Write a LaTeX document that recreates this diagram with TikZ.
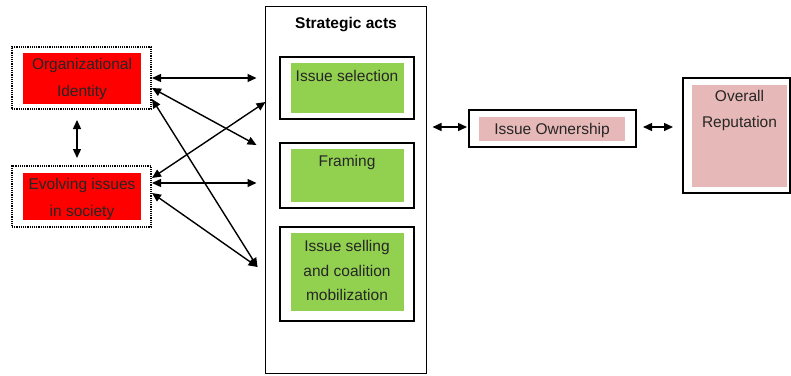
\documentclass[tikz,border=0pt]{standalone}
\usepackage{fontspec}
\setmainfont{Liberation Sans}
\usetikzlibrary{arrows.meta,calc}
\definecolor{boxred}{RGB}{255,0,0}
\definecolor{boxgreen}{RGB}{146,208,80}
\definecolor{boxpink}{RGB}{230,184,183}
\begin{document}
\begin{tikzpicture}[x=1pt,y=-1pt,
  every node/.style={inner sep=0pt,outer sep=0pt},
  rect/.style={rectangle,minimum width=#1},
  dotbox/.style={draw,densely dotted,line width=1.2pt},
  solidbox/.style={draw,line width=1.6pt},
  redfill/.style={fill=boxred},
  greenfill/.style={fill=boxgreen},
  pinkfill/.style={fill=boxpink},
  txt/.style={font=\fontsize{15.5}{24.5}\selectfont,align=center,text=black!85},
  txtwide/.style={font=\fontsize{15.5}{27}\selectfont,align=center,text=black!85},
  conn/.style={line width=1.4pt,{Triangle[length=9pt,width=8pt]}-{Triangle[length=9pt,width=8pt]}}
]
\useasboundingbox (0,0) rectangle (791,375);
% left boxes
\node[dotbox,minimum width=139pt,minimum height=62pt] (orgO) at (81.5,78) {};
\node[redfill,minimum width=118pt,minimum height=51pt] (orgI) at (82,78.5) {};
\node[txtwide] (orgT) at (82,78.5) {Organizational\\Identity};
\node[dotbox,minimum width=139pt,minimum height=61pt] (evoO) at (81.5,196.5) {};
\node[redfill,minimum width=118pt,minimum height=47pt] (evoI) at (82,196.5) {};
\node[txtwide] (evoT) at (82,198.5) {Evolving issues\\in society};
% strategic acts
\node[draw,line width=1.3pt,minimum width=161pt,minimum height=367pt] (strat) at (346,190) {};
\node[font=\fontsize{15.5}{18}\selectfont\bfseries] (stratT) at (346,25) {Strategic acts};
\node[solidbox,minimum width=134pt,minimum height=62pt] (selO) at (347,88) {};
\node[greenfill,minimum width=113pt,minimum height=50pt] (selI) at (347.5,88) {};
\node[txt] (selT) at (347,76) {Issue selection};
\node[solidbox,minimum width=134pt,minimum height=65pt] (framO) at (347,175.5) {};
\node[greenfill,minimum width=113pt,minimum height=53pt] (framI) at (347.5,175.5) {};
\node[txt] (framT) at (347,162) {Framing};
\node[solidbox,minimum width=134pt,minimum height=94pt] (sellO) at (347,274) {};
\node[greenfill,minimum width=113pt,minimum height=78pt] (sellI) at (347.5,272) {};
\node[txt] (sellT) at (347,270.5) {Issue selling\\and coalition\\mobilization};
% ownership and reputation
\node[solidbox,minimum width=167pt,minimum height=37pt] (ioO) at (552.5,128.5) {};
\node[pinkfill,minimum width=146pt,minimum height=24pt] (ioI) at (552,129) {};
\node[txt] (ioT) at (552,130) {Issue Ownership};
\node[solidbox,minimum width=107pt,minimum height=115pt] (orO) at (736.5,135.5) {};
\node[pinkfill,minimum width=95pt,minimum height=102pt] (orI) at (739.5,136) {};
\node[font=\fontsize{15.5}{26}\selectfont,align=center,text=black!85] (orT) at (739.5,110) {Overall\\Reputation};
% connector end points
\coordinate (l1) at ($(orgO.east)+(1,0)$);
\coordinate (l2) at ($(orgO.east)+(1,10)$);
\coordinate (l3) at ($(orgO.east)+(1,21)$);
\coordinate (l4) at ($(evoO.east)+(1,-18.5)$);
\coordinate (l5) at ($(evoO.east)+(1,-13.5)$);
\coordinate (l6) at ($(evoO.east)+(1,-3.5)$);
\coordinate (r1) at ($(strat.west)+(-9,-112)$);
\coordinate (r2) at ($(strat.west)+(-9,-45)$);
\coordinate (r3) at ($(strat.west)+(-8,77)$);
\coordinate (r4) at ($(strat.west)+(0,-88)$);
\coordinate (r5) at ($(strat.west)+(-9,-7)$);
\coordinate (v1) at ($(orgO.south)+(-4.5,11)$);
\coordinate (v2) at ($(evoO.north)+(-4.5,-8)$);
\coordinate (m1) at ($(strat.east)+(6,-63)$);
\coordinate (m2) at ($(ioO.west)+(-2,-1.5)$);
\coordinate (m3) at ($(ioO.east)+(7,-1.5)$);
\coordinate (m4) at ($(orO.west)+(-10,-8.5)$);
% connectors
\draw[conn] (l1) -- (r1);
\draw[conn] (l2) -- (r2);
\draw[conn] (l3) -- (r3);
\draw[conn] (l4) -- (r4);
\draw[conn] (l5) -- (r5);
\draw[conn] (l6) -- (r3);
\draw[conn] (v1) -- (v2);
\draw[conn] (m1) -- (m2);
\draw[conn] (m3) -- (m4);
\end{tikzpicture}
\end{document}
